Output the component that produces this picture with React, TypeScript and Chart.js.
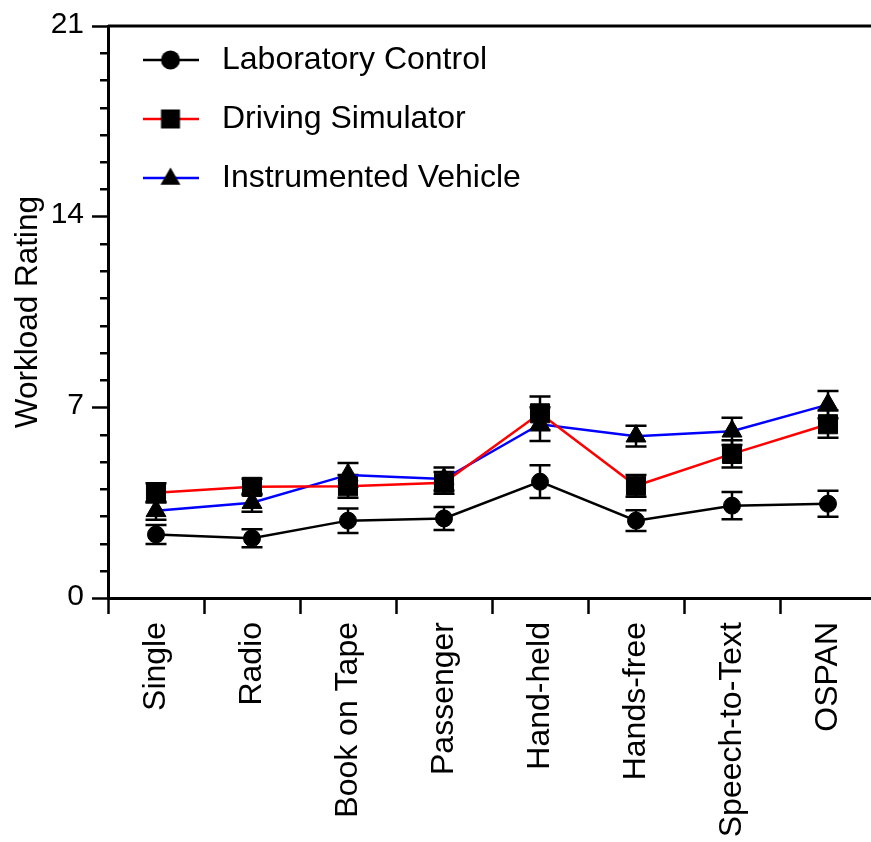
import React, { useEffect, useRef } from "react";
import { Chart, registerables } from "chart.js";

Chart.register(...registerables);

const categories = ["Single", "Radio", "Book on Tape", "Passenger", "Hand-held", "Hands-free", "Speech-to-Text", "OSPAN"];
const seriesNames = ["Laboratory Control", "Driving Simulator", "Instrumented Vehicle"];
const labValues = [2.33, 2.19, 2.84, 2.92, 4.27, 2.84, 3.39, 3.46];
const labErrors = [0.35, 0.33, 0.45, 0.42, 0.6, 0.38, 0.5, 0.48];
const simValues = [3.86, 4.08, 4.1, 4.23, 6.78, 4.12, 5.29, 6.38];
const simErrors = [0.35, 0.3, 0.42, 0.4, 0.62, 0.4, 0.5, 0.5];
const instValues = [3.2, 3.5, 4.52, 4.37, 6.38, 5.94, 6.12, 7.1];
const instErrors = [0.33, 0.33, 0.44, 0.42, 0.62, 0.38, 0.5, 0.5];
const yMin = 0;
const yMax = 21;
const yMajorStep = 7;
const yMinorStep = 1;

const FONT = "'Liberation Sans', Arial, Helvetica, sans-serif";

function makeLegendIcon(color: string, shape: string): HTMLCanvasElement {
  const c = document.createElement("canvas");
  c.width = 56;
  c.height = 28;
  const ctx = c.getContext("2d")!;
  ctx.strokeStyle = color;
  ctx.lineWidth = 2.5;
  ctx.beginPath();
  ctx.moveTo(0, 14);
  ctx.lineTo(56, 14);
  ctx.stroke();
  ctx.fillStyle = "#000";
  ctx.beginPath();
  if (shape === "circle") {
    ctx.arc(28, 14, 9.5, 0, Math.PI * 2);
  } else if (shape === "rect") {
    ctx.rect(18.5, 4.5, 19, 19);
  } else {
    const r = 11.5;
    ctx.moveTo(28, 15 - r);
    ctx.lineTo(28 + r * 0.866, 15 + r / 2);
    ctx.lineTo(28 - r * 0.866, 15 + r / 2);
    ctx.closePath();
  }
  ctx.fill();
  return c;
}

const errorBarPlugin = {
  id: "errorBars",
  beforeDatasetsDraw(chart: any) {
    const ctx = chart.ctx;
    const yScale = chart.scales.y;
    ctx.save();
    ctx.strokeStyle = "#000";
    ctx.lineWidth = 2.5;
    chart.data.datasets.forEach((ds: any, i: number) => {
      const meta = chart.getDatasetMeta(i);
      meta.data.forEach((el: any, j: number) => {
        const v = ds.data[j];
        const e = ds.errors[j];
        const x = el.x;
        const yt = yScale.getPixelForValue(v + e);
        const yb = yScale.getPixelForValue(v - e);
        ctx.beginPath();
        ctx.moveTo(x, yt);
        ctx.lineTo(x, yb);
        ctx.moveTo(x - 10.5, yt);
        ctx.lineTo(x + 10.5, yt);
        ctx.moveTo(x - 10.5, yb);
        ctx.lineTo(x + 10.5, yb);
        ctx.stroke();
      });
    });
    ctx.restore();
  },
};

const axisExtrasPlugin = {
  id: "axisExtras",
  afterDraw(chart: any) {
    const ctx = chart.ctx;
    const area = chart.chartArea;
    const yScale = chart.scales.y;
    ctx.save();
    ctx.strokeStyle = "#000";
    ctx.lineWidth = 3;
    ctx.beginPath();
    ctx.moveTo(area.left, area.top);
    ctx.lineTo(chart.width, area.top);
    ctx.stroke();
    ctx.lineWidth = 2.5;
    ctx.beginPath();
    for (let v = yMin; v <= yMax; v += yMinorStep) {
      if (v % yMajorStep === 0) continue;
      const y = Math.round(yScale.getPixelForValue(v)) + 0.25;
      ctx.moveTo(area.left - 8, y);
      ctx.lineTo(area.left, y);
    }
    ctx.stroke();
    ctx.restore();
  },
};

export default function App() {
  const canvasRef = useRef<HTMLCanvasElement | null>(null);

  useEffect(() => {
    const canvas = canvasRef.current;
    if (!canvas) return;
    const icons = [
      makeLegendIcon("#000000", "circle"),
      makeLegendIcon("#ff0000", "rect"),
      makeLegendIcon("#0000ff", "triangle"),
    ];
    const common = {
      borderWidth: 2.5,
      pointBorderWidth: 1,
      pointBackgroundColor: "#000",
      pointBorderColor: "#000",
      tension: 0,
    };
    const chart = new Chart(canvas, {
      type: "line",
      data: {
        labels: categories,
        datasets: [
          {
            ...common,
            label: seriesNames[0],
            data: labValues,
            errors: labErrors,
            borderColor: "#000000",
            backgroundColor: "#000000",
            pointStyle: "circle",
            pointRadius: 8.5,
          } as any,
          {
            ...common,
            label: seriesNames[1],
            data: simValues,
            errors: simErrors,
            borderColor: "#ff0000",
            backgroundColor: "#ff0000",
            pointStyle: "rect",
            pointRadius: 13.5,
          } as any,
          {
            ...common,
            label: seriesNames[2],
            data: instValues,
            errors: instErrors,
            borderColor: "#0000ff",
            backgroundColor: "#0000ff",
            pointStyle: "triangle",
            pointRadius: 11.5,
          } as any,
        ],
      },
      options: {
        animation: false,
        responsive: false,
        devicePixelRatio: 1,
        layout: { padding: { top: 22, right: 24, left: 0, bottom: 0 } },
        events: [],
        scales: {
          x: {
            type: "category",
            offset: true,
            grid: {
              offset: true,
              drawOnChartArea: false,
              tickLength: 16,
              tickWidth: 2.5,
              tickColor: "#000",
            },
            border: { display: true, color: "#000", width: 3 },
            ticks: {
              autoSkip: false,
              maxRotation: 90,
              minRotation: 90,
              padding: 8,
              color: "#000",
              font: { family: FONT, size: 32 },
            },
            afterFit: (scale: any) => {
              scale.height = 244;
            },
          },
          y: {
            min: yMin,
            max: yMax,
            grid: {
              drawOnChartArea: false,
              tickLength: 16,
              tickWidth: 2.5,
              tickColor: "#000",
            },
            border: { display: true, color: "#000", width: 3 },
            ticks: {
              stepSize: yMajorStep,
              padding: 8,
              labelOffset: -1.5,
              color: "#000",
              font: { family: FONT, size: 30 },
            },
            title: {
              display: true,
              text: "Workload Rating",
              color: "#000",
              font: { family: FONT, size: 31.5 },
              padding: { top: 9, bottom: 0 },
            },
            afterFit: (scale: any) => {
              scale.width = 108;
            },
          },
        },
        plugins: {
          tooltip: { enabled: false },
          legend: {
            display: true,
            position: "chartArea",
            align: "start",
            title: {
              display: true,
              text: "",
              font: { size: 1 },
              padding: { top: 15.8, bottom: 0 },
            },
            labels: {
              usePointStyle: true,
              pointStyleWidth: 71,
              padding: 27,
              color: "#000",
              font: { family: FONT, size: 32 },
              generateLabels: (ch: any) =>
                ch.data.datasets.map((ds: any, i: number) => ({
                  text: ds.label,
                  fillStyle: ds.borderColor,
                  strokeStyle: ds.borderColor,
                  lineWidth: 0,
                  pointStyle: icons[i],
                  hidden: false,
                  datasetIndex: i,
                  fontColor: "#000",
                })),
            },
          },
        },
      } as any,
      plugins: [errorBarPlugin, axisExtrasPlugin],
    });
    return () => chart.destroy();
  }, []);

  return (
    <div
      style={{
        position: "fixed",
        left: 0,
        top: 0,
        width: 871,
        height: 842,
        overflow: "hidden",
        background: "#fff",
      }}
    >
      <canvas ref={canvasRef} width={900} height={842} style={{ width: 900, height: 842, display: "block" }} />
    </div>
  );
}
